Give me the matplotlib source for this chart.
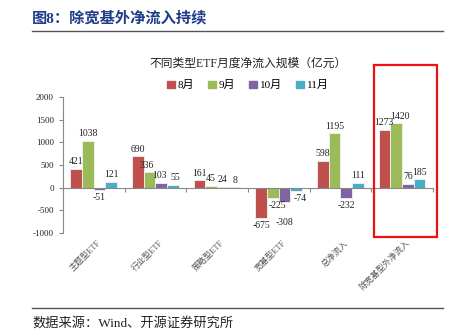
import numpy as np
import matplotlib
matplotlib.use('Agg')
import matplotlib.pyplot as plt
from matplotlib.patches import Rectangle
from matplotlib.lines import Line2D

plt.rcParams['font.family'] = ['Liberation Serif', 'Noto Sans CJK SC']
plt.rcParams['axes.unicode_minus'] = False

# Monthly net inflow by ETF type (100 million yuan)
categories = ['主题型ETF', '行业型ETF', '策略型ETF', '宽基型ETF', '总净流入', '除宽基型外净流入']
months = ['8月', '9月', '10月', '11月']
aug = [421, 690, 161, -675, 598, 1273]
sep = [1038, 336, 45, -225, 1195, 1420]
octo = [-51, 103, 24, -308, -232, 76]
nov = [121, 55, 8, -74, 111, 185]

RED = '#C0504D'
GREEN = '#9BBB59'
PURPLE = '#8064A2'
CYAN = '#4BACC6'
colors = [RED, GREEN, PURPLE, CYAN]
series = [aug, sep, octo, nov]

# nudges (points) for labels that would collide: (series index, category index) -> (dx, dy)
nudges = {(0, 5): (-0.5, 0), (1, 5): (3, 0), (1, 1): (-2, 0), (1, 3): (3, 0),
          (2, 3): (0, -10), (3, 3): (3, 0), (2, 1): (-1, 0), (3, 1): (2, 0)}

fig = plt.figure(figsize=(4.62, 3.31), dpi=100)

# Header and footer
fig.text(0.07, 0.945, '图8：除宽基外净流入持续', fontsize=11, fontweight='bold',
         color='#1F3C88', va='center', ha='left')
fig.add_artist(Line2D([0.069, 0.959], [0.906, 0.906], color='#555555', lw=1))
fig.add_artist(Line2D([0.069, 0.959], [0.07, 0.07], color='#555555', lw=1))
fig.text(0.07, 0.025, '数据来源：Wind、开源证券研究所', fontsize=9.5,
         color='#222222', va='center', ha='left')

ax = fig.add_axes([0.136, 0.296, 0.801, 0.411])
x = np.arange(len(categories))
w = 0.19
offsets = (np.arange(4) - 1.5) * w

for si, (vals, col, off, name) in enumerate(zip(series, colors, offsets, months)):
    ax.bar(x + off, vals, w, color=col, edgecolor='#f2f2f2', linewidth=0.6, label=name)
    for ci, (xi, v) in enumerate(zip(x + off, vals)):
        dx, dy = nudges.get((si, ci), (0, 0))
        if v >= 0:
            ax.annotate(str(v), (xi, v), xytext=(dx, 2 + dy), textcoords='offset points',
                        ha='center', va='bottom', fontsize=7, color='#222222')
        else:
            ax.annotate(str(v), (xi, v), xytext=(dx, -2 + dy), textcoords='offset points',
                        ha='center', va='top', fontsize=7, color='#222222')

ax.set_xlim(-0.5, len(categories) - 0.5)
ax.set_ylim(-1000, 2000)
ax.set_yticks(np.arange(-1000, 2001, 500))
ax.tick_params(axis='y', labelsize=6.5, length=3, color='#888888', labelcolor='#222222')

ax.spines['top'].set_visible(False)
ax.spines['right'].set_visible(False)
ax.spines['left'].set_color('#888888')
ax.spines['bottom'].set_position(('data', 0))
ax.spines['bottom'].set_color('#888888')
ax.set_xticks(np.arange(len(categories) + 1) - 0.5)
ax.set_xticklabels([])
ax.tick_params(axis='x', length=3, direction='out', color='#888888')

# Rotated category labels below the plot area
trans = ax.get_xaxis_transform()
for xi, name in zip(x, categories):
    ax.text(xi + 0.05, -0.04, name, transform=trans, rotation=45, ha='right', va='top',
            rotation_mode='anchor', fontsize=6, color='#555555')

ax.set_title('不同类型ETF月度净流入规模（亿元）', fontsize=8.5, pad=22, color='#222222')
ax.legend(handles=[Rectangle((0, 0), 1, 1, color=c) for c in colors], labels=months,
          ncol=4, frameon=False, loc='lower center', bbox_to_anchor=(0.5, 1.0),
          fontsize=8, handlelength=0.7, handleheight=0.7, handletextpad=0.3,
          columnspacing=1.2, borderaxespad=0.2)

# Highlight box around the last group
fig.add_artist(Rectangle((374 / 462, 1 - 237 / 331), 63 / 462, 172 / 331,
                         transform=fig.transFigure, fill=False, edgecolor='#EE1111', lw=1.6))

fig.savefig('out.png', dpi=100)
